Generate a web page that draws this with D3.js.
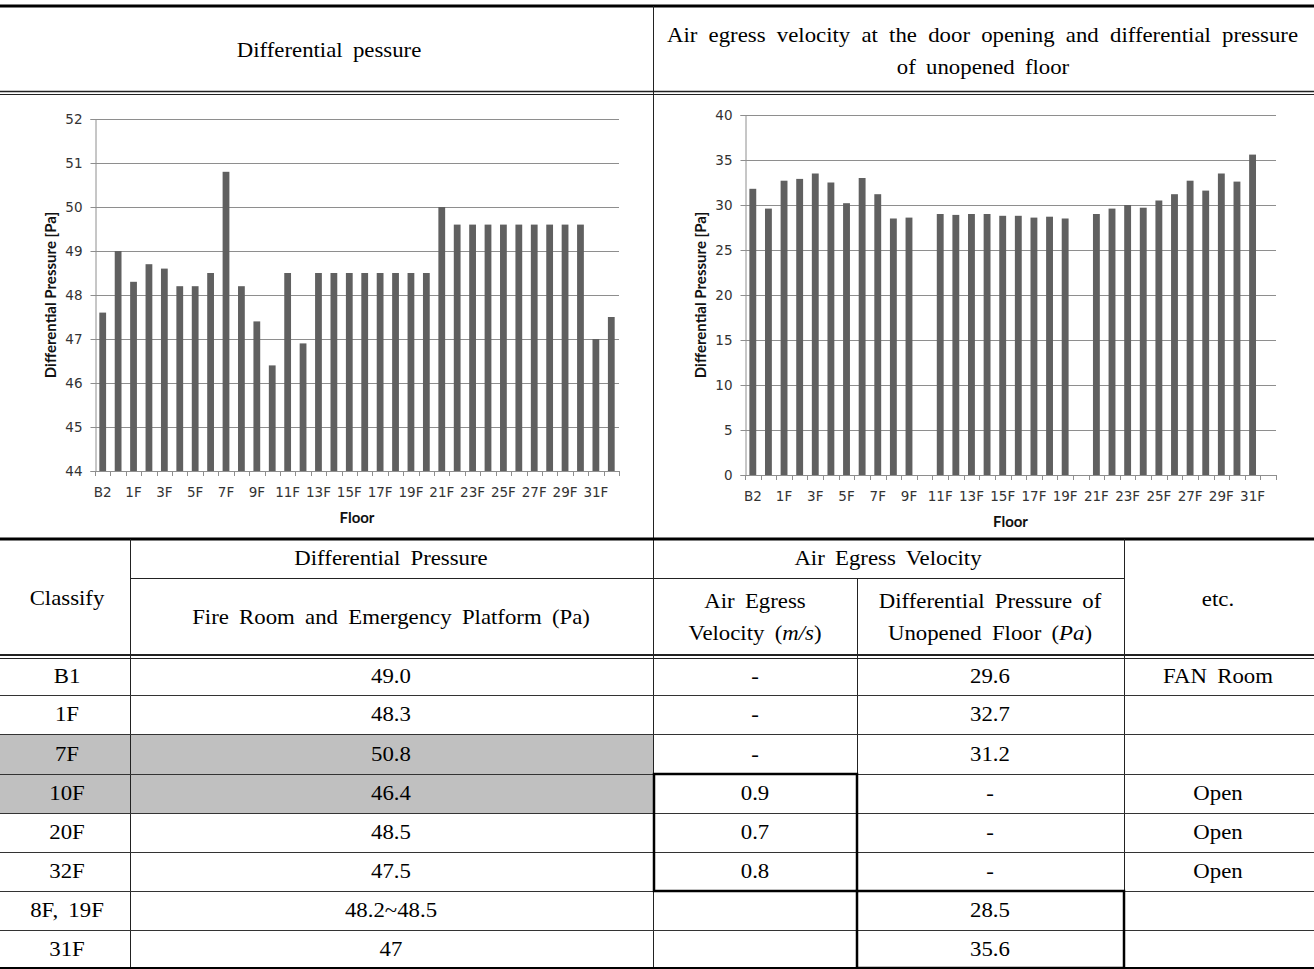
<!DOCTYPE html>
<html><head><meta charset="utf-8">
<script src="https://cdn.jsdelivr.net/npm/d3@7"></script>
<style>
html,body{margin:0;padding:0;background:#fff;}
svg{display:block;}
.serif{font-family:"Liberation Serif","Times New Roman",serif;font-size:20px;fill:#000;word-spacing:4px;}
.tick text{font-family:"DejaVu Sans",Verdana,sans-serif;font-size:13.5px;fill:#333;}
.atitle{font-family:Lato,"Open Sans",sans-serif;font-weight:bold;font-size:15px;fill:#111;}
</style></head>
<body>
<svg id="c" width="1314" height="969"></svg>
<script>
// ---------- data ----------
const floors = ["B2","B1","1F","2F","3F","4F","5F","6F","7F","8F","9F","10F","11F","12F","13F","14F","15F","16F","17F","18F","19F","20F","21F","22F","23F","24F","25F","26F","27F","28F","29F","30F","31F","32F"];
const diffPressure = [47.6,49.0,48.3,48.7,48.6,48.2,48.2,48.5,50.8,48.2,47.4,46.4,48.5,46.9,48.5,48.5,48.5,48.5,48.5,48.5,48.5,48.5,50.0,49.6,49.6,49.6,49.6,49.6,49.6,49.6,49.6,49.6,47.0,47.5];
const unopenedPressure = [31.8,29.6,32.7,32.9,33.5,32.5,30.2,33.0,31.2,28.5,28.6,null,29.0,28.9,29.0,29.0,28.8,28.8,28.6,28.7,28.5,null,29.0,29.6,30.0,29.7,30.5,31.2,32.7,31.6,33.5,32.6,35.6,null];
const xTickLabels = ["B2","1F","3F","5F","7F","9F","11F","13F","15F","17F","19F","21F","23F","25F","27F","29F","31F"];
const leftYTicks = [44,45,46,47,48,49,50,51,52];
const rightYTicks = [0,5,10,15,20,25,30,35,40];

const headerLeft = "Differential pessure";
const headerRight = ["Air egress velocity at the door opening and differential pressure","of unopened floor"];

const tClassify = ["B1","1F","7F","10F","20F","32F","8F, 19F","31F"];
const tDiffPressure = ["49.0","48.3","50.8","46.4","48.5","47.5","48.2~48.5","47"];
const tVelocity = ["-","-","-","0.9","0.7","0.8","",""];
const tUnopened = ["29.6","32.7","31.2","-","-","-","28.5","35.6"];
const tEtc = ["FAN Room","","","Open","Open","Open","",""];
const tShaded = ["7F","10F"];

// ---------- drawing ----------
const svg = d3.select("#c");
const BAR = "#606060", GRID = "#8e8e8e";
const SX = 1.14;

function drawChart(cfg){
  const g = svg.append("g");
  const x = d3.scaleBand().domain(floors).range([cfg.x0, cfg.x1]).paddingInner(0.56).paddingOuter(0.28);
  const y = d3.scaleLinear().domain(cfg.domain).range([cfg.yb, cfg.yt]);
  g.append("g").selectAll("line").data(cfg.yTicks).join("line")
    .attr("x1", cfg.x0).attr("x2", cfg.x1)
    .attr("y1", d=>Math.round(y(d))+0.5).attr("y2", d=>Math.round(y(d))+0.5)
    .attr("stroke", GRID).attr("stroke-width",1);
  const ya = g.append("g").attr("transform",`translate(${cfg.x0+0.5},0)`)
    .call(d3.axisLeft(y).tickValues(cfg.yTicks).tickSize(5).tickPadding(8).tickFormat(d3.format("d")));
  ya.select(".domain").attr("stroke",GRID);
  ya.selectAll(".tick line").attr("stroke",GRID);
  ya.selectAll(".tick").attr("transform", d=>`translate(0,${Math.round(y(d))+0.5})`);
  g.append("g").selectAll("rect").data(floors.map((f,i)=>({f, v:cfg.values[i]})).filter(d=>d.v!=null)).join("rect")
    .attr("x", d=>x(d.f)).attr("width", x.bandwidth())
    .attr("y", d=>y(d.v)).attr("height", d=>y(cfg.domain[0])-y(d.v))
    .attr("fill", BAR);
  const bounds = d3.range(floors.length+1).map(i=>cfg.x0 + i*(cfg.x1-cfg.x0)/floors.length);
  g.append("g").selectAll("line").data(bounds).join("line")
    .attr("x1", d=>Math.round(d)+0.5).attr("x2", d=>Math.round(d)+0.5)
    .attr("y1", cfg.yb).attr("y2", cfg.yb+5).attr("stroke",GRID);
  const xa = g.append("g").attr("transform",`translate(0,${cfg.yb})`)
    .call(d3.axisBottom(x).tickValues(xTickLabels).tickSize(0).tickPadding(16));
  xa.select(".domain").remove();
  g.append("text").attr("class","atitle").attr("text-anchor","middle")
    .attr("x", (cfg.x0+cfg.x1)/2).attr("y", cfg.yb+cfg.floorDy).text("Floor");
  g.append("text").attr("class","atitle").attr("text-anchor","middle")
    .attr("transform",`translate(${cfg.ytX},${(cfg.yt+cfg.yb)/2}) rotate(-90)`)
    .text("Differential Pressure [Pa]");
}

drawChart({x0:95, x1:619, yt:119, yb:471, domain:[44,52], yTicks:leftYTicks, values:diffPressure, floorDy:52, ytX:56});
drawChart({x0:745, x1:1276, yt:115, yb:475, domain:[0,40], yTicks:rightYTicks, values:unopenedPressure, floorDy:52, ytX:706});

// ---------- table structure ----------
const T = svg.append("g");
function hline(x1,x2,y,w,c){T.append("line").attr("x1",x1).attr("x2",x2).attr("y1",y).attr("y2",y).attr("stroke",c||"#222").attr("stroke-width",w||1);}
function vline(x,y1,y2,w,c){T.append("line").attr("x1",x).attr("x2",x).attr("y1",y1).attr("y2",y2).attr("stroke",c||"#222").attr("stroke-width",w||1);}
function txtEl(x,y,anchor){return T.append("text").attr("class","serif").attr("text-anchor",anchor||"middle").attr("dominant-baseline","central")
  .attr("transform",`translate(${x},${y}) scale(${SX},1)`);}
function txt(s,x,y){return txtEl(x,y).text(s);}

const rowY = [657,695,734,774,813,852,891,930,968];

tClassify.forEach((c,i)=>{ if(tShaded.includes(c)) T.append("rect").attr("x",0).attr("y",rowY[i]).attr("width",653).attr("height",rowY[i+1]-rowY[i]).attr("fill","#c0c0c0"); });

// top header
hline(0,1314,6,3,"#000");
vline(653.5,6,968,1);
hline(0,1314,91.5,1.5,"#222");
hline(0,1314,94.5,1,"#222");
txt(headerLeft,329,50);
const hr = txtEl(667,35,"start").text(headerRight[0]);
{ const len = hr.node().getComputedTextLength(); const n = headerRight[0].split(" ").length-1;
  const ws = 4 + (631/SX - len)/n; hr.style("word-spacing", ws+"px"); }
txt(headerRight[1],983,67);

// table header
hline(0,1314,539,3,"#000");
hline(130,1124,578.5,1);
hline(0,1314,655,2,"#222");
hline(0,1314,658.5,1,"#222");
vline(130.5,539,968,1);
vline(857.5,578,968,1);
vline(1124.5,539,968,1);
txt("Classify",67,598);
txt("Differential Pressure",391,558);
txt("Fire Room and Emergency Platform (Pa)",391,617);
txt("Air Egress Velocity",888,558);
txt("Air Egress",755,601);
const v2 = txtEl(755,633);
v2.append("tspan").text("Velocity (");
v2.append("tspan").style("font-style","italic").text("m/s");
v2.append("tspan").text(")");
txt("Differential Pressure of",990,601);
const u2 = txtEl(990,633);
u2.append("tspan").text("Unopened Floor (");
u2.append("tspan").style("font-style","italic").text("Pa");
u2.append("tspan").text(")");
txt("etc.",1218,599);

// body
rowY.slice(1,-1).forEach(y=>hline(0,1314,y+0.5,1,"#333"));
hline(0,1314,968,2,"#000");
const centers = [67,391,755,990,1218];
tClassify.forEach((c,i)=>{
  const yc = (rowY[i]+rowY[i+1])/2;
  [c,tDiffPressure[i],tVelocity[i],tUnopened[i],tEtc[i]].forEach((s,j)=>{ if(s!=="") txt(s,centers[j],yc); });
});

// bold boxes
T.append("rect").attr("x",654).attr("y",774).attr("width",857-654).attr("height",891-774).attr("fill","none").attr("stroke","#000").attr("stroke-width",2.5);
T.append("rect").attr("x",857).attr("y",891).attr("width",1124-857).attr("height",968-891).attr("fill","none").attr("stroke","#000").attr("stroke-width",2.5);
</script>
</body></html>
